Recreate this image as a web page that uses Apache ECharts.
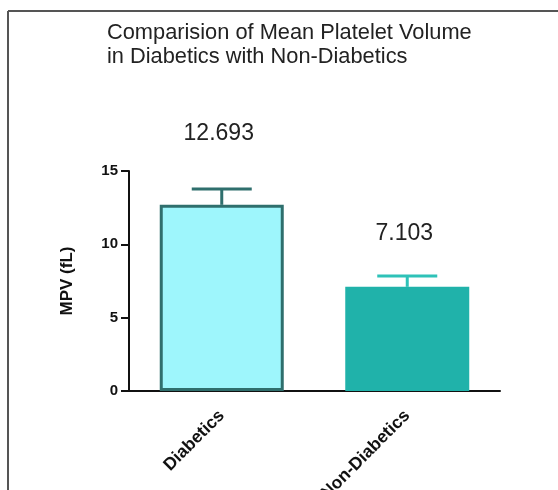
<!DOCTYPE html>
<html>
<head>
<meta charset="utf-8">
<script src="https://cdn.jsdelivr.net/npm/echarts@6/dist/echarts.min.js"></script>
<style>html,body{margin:0;padding:0;background:#fff;}#c{width:558px;height:490px;}</style>
</head>
<body>
<div id="c"></div>
<script>
const categories = ['Diabetics', 'Non-Diabetics'];
const means = [12.693, 7.103];
const sds = [1.08, 0.74];
const yTicks = [0, 5, 10, 15];

const fills = ['#9ef6fc', '#20b2aa'];
const borders = ['#2f6f6d', '#20b2aa'];
const errColors = ['#2f6f6d', '#2ec2b8'];
const labelDist = [60, 42];
const labelOffsetX = [-3, -3];

const chart = echarts.init(document.getElementById('c'));
const font = '"Liberation Sans", Arial, sans-serif';

chart.setOption({
  animation: false,
  title: {
    text: 'Comparision of Mean Platelet Volume\nin Diabetics with Non-Diabetics',
    left: 102, top: 16,
    textStyle: { fontFamily: font, fontSize: 21.8, fontWeight: 'normal', color: '#222', lineHeight: 24 }
  },
  graphic: [
    { type: 'line', shape: { x1: 8, y1: 11, x2: 558, y2: 11 }, style: { stroke: '#555', lineWidth: 2 } },
    { type: 'line', shape: { x1: 8, y1: 11, x2: 8, y2: 490 }, style: { stroke: '#555', lineWidth: 2 } }
  ],
  grid: { left: 129, right: 58, top: 171, bottom: 99, containLabel: false, outerBoundsMode: 'none' },
  xAxis: {
    type: 'category',
    data: categories,
    axisLine: { lineStyle: { color: '#111', width: 2 } },
    axisTick: { alignWithLabel: true, length: 7, lineStyle: { color: '#111', width: 2 } },
    axisLabel: { rotate: 45, margin: 22, fontFamily: font, fontSize: 17.5, fontWeight: 'bold', color: '#111' }
  },
  yAxis: {
    type: 'value', min: yTicks[0], max: yTicks[yTicks.length - 1], interval: 5,
    name: 'MPV (fL)', nameLocation: 'middle', nameRotate: 90, nameGap: 53,
    nameTextStyle: { fontFamily: font, fontSize: 17, fontWeight: 'bold', color: '#111' },
    axisLine: { show: true, lineStyle: { color: '#111', width: 2 } },
    axisTick: { show: true, length: 8, lineStyle: { color: '#111', width: 2 } },
    axisLabel: { margin: 11, fontFamily: font, fontSize: 15, fontWeight: 'bold', color: '#111' },
    splitLine: { show: false }
  },
  series: [
    {
      type: 'bar',
      barWidth: 124,
      data: means.map((v, i) => ({
        value: v,
        itemStyle: { color: fills[i], borderColor: borders[i], borderWidth: i === 0 ? 3 : 0 },
        label: {
          show: true, position: 'top', distance: labelDist[i], offset: [labelOffsetX[i], 0],
          formatter: v.toFixed(3),
          fontFamily: font, fontSize: 23, color: '#222'
        }
      })),
      z: 2
    },
    {
      type: 'custom',
      data: means.map((v, i) => [i, v, v + sds[i]]),
      renderItem: function (params, api) {
        const i = api.value(0);
        const base = api.coord([i, api.value(1)]);
        const top = api.coord([i, api.value(2)]);
        const hw = 30;
        const c = errColors[params.dataIndex];
        return {
          type: 'group',
          children: [
            { type: 'line', shape: { x1: base[0], y1: base[1], x2: top[0], y2: top[1] }, style: { stroke: c, lineWidth: 3 } },
            { type: 'line', shape: { x1: top[0] - hw, y1: top[1], x2: top[0] + hw, y2: top[1] }, style: { stroke: c, lineWidth: 3 } }
          ]
        };
      },
      z: 1
    }
  ]
});
</script>
</body>
</html>
